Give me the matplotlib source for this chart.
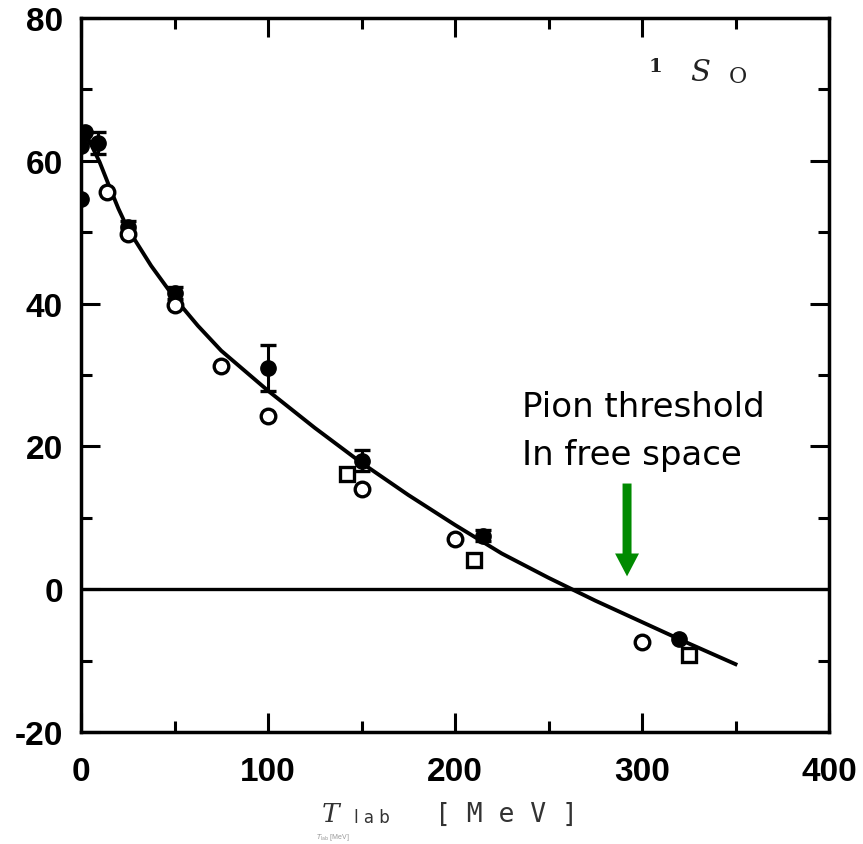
import matplotlib
matplotlib.use('Agg')
import matplotlib.pyplot as plt
import numpy as np
from matplotlib.ticker import MultipleLocator

plt.rcParams['font.family'] = ['Liberation Sans', 'DejaVu Sans']
plt.rcParams['axes.unicode_minus'] = False

# 1S0 phase shift (degrees) versus laboratory energy (MeV)
filled_T = [0, 0, 2, 9, 25, 50, 100, 150, 215, 320]
filled_d = [54.7, 62.1, 64.0, 62.5, 50.7, 41.5, 31.0, 18.0, 7.5, -7.0]
filled_err = [0, 0, 0, 1.5, 0.8, 0.8, 3.2, 1.5, 0.8, 0]

open_T = [14, 25, 50, 75, 100, 150, 200, 300]
open_d = [55.6, 49.7, 39.8, 31.3, 24.2, 14.0, 7.0, -7.4]

square_T = [142, 210, 325]
square_d = [16.2, 4.1, -9.2]

curve_T = [1, 5, 10, 15, 20, 25, 37.5, 50, 62.5, 75, 100, 125, 150, 175,
           200, 225, 250, 275, 300, 325, 350]
curve_d = [64.5, 62.5, 59.8, 56.5, 53.3, 50.5, 45.3, 40.8, 36.9, 33.4, 27.8,
           22.6, 17.7, 13.2, 9.0, 5.0, 1.6, -1.6, -4.6, -7.6, -10.5]

x_ticks = [0, 100, 200, 300, 400]
y_ticks = [-20, 0, 20, 40, 60, 80]

pion_threshold_T = 292
annotation_lines = ["Pion threshold", "In free space"]

fig = plt.figure(figsize=(8.63, 8.45), dpi=100)
ax = fig.add_axes([81 / 863, 1 - 733 / 845, 748 / 863, 714 / 845])

ax.set_xlim(0, 400)
ax.set_ylim(-20, 80)

# zero line
ax.axhline(0, color='black', lw=2.4, zorder=2)

# theoretical curve
ax.plot(curve_T, curve_d, color='black', lw=2.8, zorder=3,
        solid_joinstyle='round')

# filled circles, with error bars where given
fT = np.array(filled_T, dtype=float)
fd = np.array(filled_d, dtype=float)
fe = np.array(filled_err, dtype=float)
has_err = fe > 0
ax.errorbar(fT[has_err], fd[has_err], yerr=fe[has_err], fmt='none',
            ecolor='black', elinewidth=2.2, capsize=6, capthick=2.4, zorder=4)
ax.plot(fT, fd, 'o', color='black', ms=11, zorder=5)

# open circles
ax.plot(open_T, open_d, 'o', mfc='white', mec='black', mew=2.4, ms=10.5,
        zorder=6)

# open squares
ax.plot(square_T, square_d, 's', mfc='white', mec='black', mew=2.4, ms=9.5,
        zorder=6)

# pion production threshold arrow
ax.arrow(pion_threshold_T, 14.8, 0, -13.0, width=4.8, head_width=12.8,
         head_length=3.2, length_includes_head=True, color='#008a00',
         lw=0, zorder=7)
ax.text(236, 24.2, annotation_lines[0], fontsize=24.5, va='baseline',
        ha='left', color='black', family='DejaVu Sans')
ax.text(236, 17.6, annotation_lines[1], fontsize=24.5, va='baseline',
        ha='left', color='black', family='DejaVu Sans')

# frame and ticks
for s in ax.spines.values():
    s.set_linewidth(2.5)
ax.set_xticks(x_ticks)
ax.set_yticks(y_ticks)
ax.xaxis.set_minor_locator(MultipleLocator(50))
ax.yaxis.set_minor_locator(MultipleLocator(10))
ax.tick_params(which='both', direction='in', top=True, right=True, width=2.2)
ax.tick_params(which='major', length=14)
ax.tick_params(which='minor', length=8)
ax.tick_params(axis='x', which='major', pad=17)
ax.tick_params(axis='y', which='major', pad=13)
for lab in ax.get_xticklabels() + ax.get_yticklabels():
    lab.set_fontsize(24)
    lab.set_fontweight('bold')

# partial-wave label (positions in pixels converted to axes fraction)
def ax_frac(px, py):
    return (px - 81) / 748, 1 - (py - 19) / 714

ax.text(*ax_frac(655, 67), '1', transform=ax.transAxes,
        fontsize=14, ha='center', va='center', color='#222222',
        family='DejaVu Serif', fontweight='bold')
ax.text(*ax_frac(700, 73), 'S', transform=ax.transAxes,
        fontsize=21, ha='center', va='center', color='#222222',
        family='DejaVu Serif', style='italic')
ax.text(*ax_frac(738, 77), 'O', transform=ax.transAxes,
        fontsize=16, ha='center', va='center', color='#222222',
        family='DejaVu Serif')

# axis title
fig.text(331 / 863, 1 - 815 / 845, 'T', fontsize=19, ha='center',
         va='center', color='#333333', family='DejaVu Serif', style='italic')
fig.text(372 / 863, 1 - 818 / 845, 'l a b', fontsize=12, ha='center',
         va='center', color='#333333', family='DejaVu Sans')
fig.text(506 / 863, 1 - 815 / 845, '[ M e V ]', fontsize=19, ha='center',
         va='center', color='#333333', family='DejaVu Sans Mono')
fig.text(316 / 863, 1 - 838 / 845, r'$T_{\mathrm{lab}}$ [MeV]', fontsize=5,
         ha='left', va='center', color='#999999')

fig.savefig('out.png', dpi=100)
